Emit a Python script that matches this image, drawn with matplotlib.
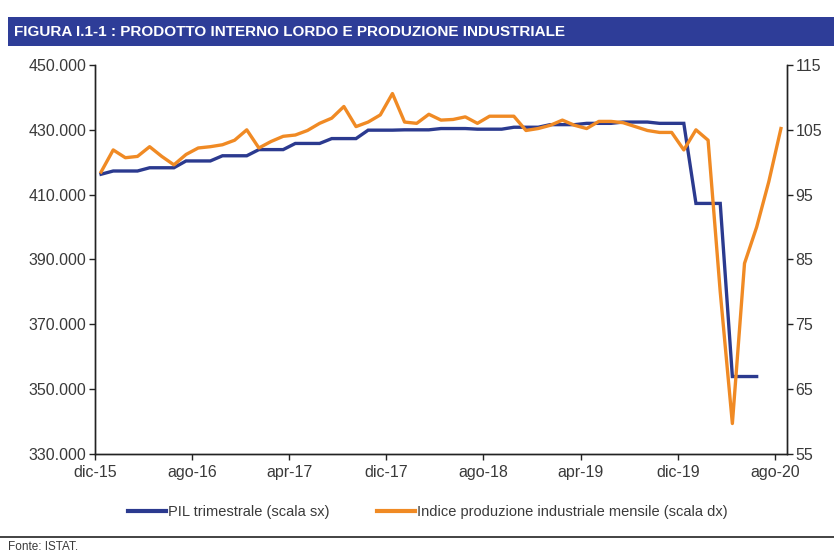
import numpy as np
import matplotlib
matplotlib.use('Agg')
from matplotlib import pyplot as plt
from matplotlib.patches import Rectangle
from matplotlib.lines import Line2D
from matplotlib.ticker import FuncFormatter

# etichette asse x (una ogni 8 mesi)
mesi_tick = ['dic-15', 'ago-16', 'apr-17', 'dic-17', 'ago-18', 'apr-19', 'dic-19', 'ago-20']
n_mesi = 57  # dic-15 ... ago-20

# PIL trimestrale (milioni di euro), valore ripetuto sui mesi del trimestre
pil_trim = [416300, 417300, 418300, 420400, 422000, 423900, 425800, 427300, 429900,
            430000, 430400, 430200, 430800, 431600, 432000, 432400, 432000, 407300, 353900]
mesi_per_trim = [1] + [3] * 18

# Indice produzione industriale mensile (dic-15 ... ago-20)
ind_prod = [98.5, 101.9, 100.7, 100.9, 102.4, 100.9, 99.6, 101.2, 102.2, 102.4,
            102.7, 103.4, 105.0, 102.2, 103.2, 104.0, 104.2, 104.9, 106.0, 106.8,
            108.6, 105.5, 106.2, 107.3, 110.6, 106.2, 106.0, 107.4, 106.5, 106.6,
            107.0, 106.0, 107.1, 107.1, 107.1, 104.9, 105.2, 105.7, 106.5, 105.7,
            105.2, 106.3, 106.3, 106.1, 105.5, 104.9, 104.6, 104.6, 101.9, 105.0,
            103.4, 80.0, 59.7, 84.4, 90.0, 97.0, 105.2]

BLU = '#2b3a8f'
ARANCIO = '#f08a24'
TESTO = '#3a3a3a'
FONT = 'Liberation Sans'

plt.rcParams['font.family'] = [FONT, 'DejaVu Sans']

pil = np.repeat(pil_trim, mesi_per_trim)
x_pil = np.arange(len(pil)) + 0.5
x_ind = np.arange(len(ind_prod)) + 0.5

fig = plt.figure(figsize=(8.34, 5.54), dpi=100)
ax = fig.add_axes([95/834, 1-454/554, (787-95)/834, (454-65)/554])
ax2 = ax.twinx()

ax.plot(x_pil, pil, color=BLU, lw=2.4, solid_joinstyle='miter')
ax2.plot(x_ind, ind_prod, color=ARANCIO, lw=2.4)

ax.set_xlim(0, n_mesi)
ax.set_ylim(330000, 450000)
ax.set_yticks(np.arange(330000, 450001, 20000))
ax.yaxis.set_major_formatter(FuncFormatter(lambda v, p: f'{int(v):,}'.replace(',', '.')))
ax2.set_ylim(55, 115)
ax2.set_yticks(np.arange(55, 116, 10))
ax.set_xticks(np.arange(0, n_mesi, 8))
ax.set_xticklabels(mesi_tick)

for a in (ax, ax2):
    a.spines['top'].set_visible(False)
    for s in a.spines.values():
        s.set_linewidth(1.0)
        s.set_color('#222222')
    a.tick_params(direction='out', length=4, width=1, color='#222222',
                  labelsize=11.5, labelcolor=TESTO, pad=2)
ax.tick_params(axis='x', pad=4)

# legenda
handles = [Line2D([], [], color=BLU, lw=3), Line2D([], [], color=ARANCIO, lw=3)]
labels = ['PIL trimestrale (scala sx)', 'Indice produzione industriale mensile (scala dx)']
fig.legend(handles, labels, loc='center', bbox_to_anchor=(0.513, 1-512/554), ncol=2,
           frameon=False, fontsize=10.5, handlelength=2.6, handletextpad=0.15,
           columnspacing=3.2, labelcolor=TESTO)

# barra del titolo
fig.patches.append(Rectangle((8/834, 1-46/554), 1, 29/554, transform=fig.transFigure,
                             facecolor='#2e3d98', edgecolor='none'))
fig.text(14/834, 1-31.5/554, 'FIGURA I.1-1 : PRODOTTO INTERNO LORDO E PRODUZIONE INDUSTRIALE',
         color='white', fontsize=11, fontweight='bold', va='center', ha='left',
         family=['Liberation Sans', 'DejaVu Sans'])

# riga e fonte
fig.add_artist(Line2D([0, 1], [1-537/554, 1-537/554], color='#222222', lw=1.2,
                      transform=fig.transFigure))
fig.text(8/834, 1-547/554, 'Fonte: ISTAT.', fontsize=8.5, color=TESTO, va='center')

fig.savefig('out.png', dpi=100)
